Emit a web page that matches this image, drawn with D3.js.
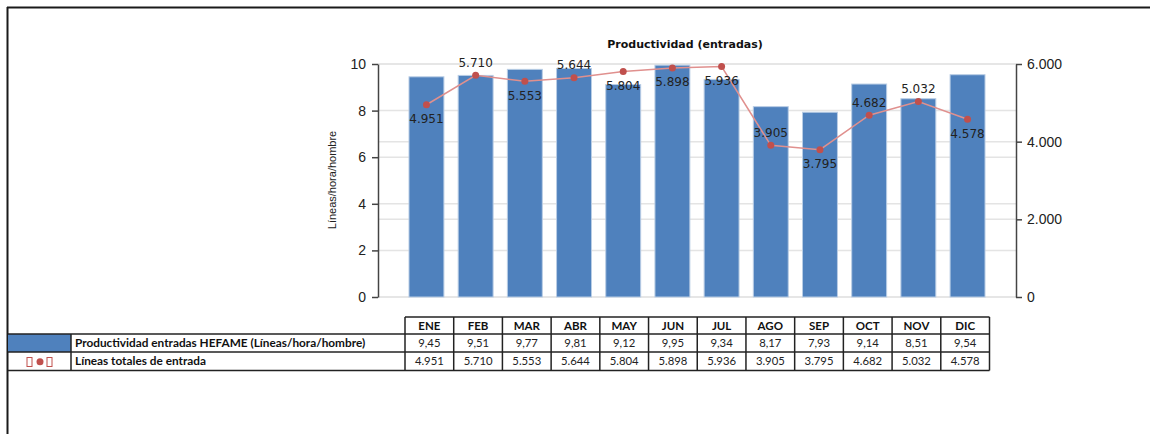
<!DOCTYPE html>
<html>
<head>
<meta charset="utf-8">
<script src="https://cdn.jsdelivr.net/npm/d3@7"></script>
<style>
  html, body { margin: 0; padding: 0; background: #fff; }
  svg { display: block; }
</style>
</head>
<body>
<div id="chart"></div>
<script>
// Data
const months = ["ENE", "FEB", "MAR", "ABR", "MAY", "JUN", "JUL", "AGO", "SEP", "OCT", "NOV", "DIC"];
const productividad = [9.45, 9.51, 9.77, 9.81, 9.12, 9.95, 9.34, 8.17, 7.93, 9.14, 8.51, 9.54];
const lineasTotales = [4951, 5710, 5553, 5644, 5804, 5898, 5936, 3905, 3795, 4682, 5032, 4578];
const labelSide = ["below", "above", "below", "above", "below", "below", "below", "above", "below", "above", "above", "below"];
const leftTicks = [0, 2, 4, 6, 8, 10];
const rightTicks = [0, 2000, 4000, 6000];
const seriesNames = ["Productividad entradas HEFAME (Líneas/hora/hombre)", "Líneas totales de entrada"];

// Spanish number format
const es = d3.formatLocale({ decimal: ",", thousands: ".", grouping: [3], currency: ["", " €"] });
const fmtInt = es.format(",.0f");
const fmtDec = es.format(",.2f");

const width = 1150, height = 434;
const plot = { left: 378, right: 1016, top: 64, bottom: 297 };

const svg = d3.select("#chart").append("svg")
    .attr("width", width)
    .attr("height", height);

// Outer frame (top and left edges)
svg.append("line").attr("x1", 7).attr("x2", width).attr("y1", 7.5).attr("y2", 7.5)
    .attr("stroke", "#1a1a1a").attr("stroke-width", 2);
svg.append("line").attr("x1", 7.5).attr("x2", 7.5).attr("y1", 7).attr("y2", height)
    .attr("stroke", "#1a1a1a").attr("stroke-width", 2);

// Scales
const x = d3.scaleBand()
    .domain(months)
    .range([plot.left, plot.right])
    .paddingInner(0.29)
    .paddingOuter(0.63);

const yLeft = d3.scaleLinear().domain([0, 10]).range([plot.bottom, plot.top]);
const yRight = d3.scaleLinear().domain([0, 6000]).range([plot.bottom, plot.top]);

// Gridlines
const grid = svg.append("g").attr("stroke", "#e4e4e4").attr("stroke-width", 1.5);
leftTicks.forEach(t => {
    grid.append("line").attr("x1", plot.left).attr("x2", plot.right)
        .attr("y1", yLeft(t)).attr("y2", yLeft(t));
});
rightTicks.forEach(t => {
    grid.append("line").attr("x1", plot.left).attr("x2", plot.right)
        .attr("y1", yRight(t)).attr("y2", yRight(t));
});

// Bars
svg.append("g").selectAll("rect")
    .data(months)
    .enter()
    .append("rect")
    .attr("x", d => x(d))
    .attr("y", (d, i) => yLeft(productividad[i]))
    .attr("width", x.bandwidth())
    .attr("height", (d, i) => yLeft(0) - yLeft(productividad[i]))
    .attr("fill", "#4f81bd")
    .attr("stroke", "#b9cde5")
    .attr("stroke-width", 1);

// Axes
const leftAxis = svg.append("g")
    .attr("transform", `translate(${plot.left},0)`)
    .call(d3.axisLeft(yLeft).tickValues(leftTicks).tickSize(6).tickSizeOuter(0).tickPadding(6));

const rightAxis = svg.append("g")
    .attr("transform", `translate(${plot.right},0)`)
    .call(d3.axisRight(yRight).tickValues(rightTicks).tickSize(6).tickSizeOuter(0).tickPadding(5)
        .tickFormat(fmtInt));

[leftAxis, rightAxis].forEach(a => {
    a.select(".domain").attr("stroke", "#444").attr("stroke-width", 1.5);
    a.selectAll(".tick line").attr("stroke", "#444").attr("stroke-width", 1.5);
    a.selectAll(".tick text")
        .attr("fill", "#222")
        .style("font-family", "'Liberation Sans', Arial, sans-serif")
        .style("font-size", "14px");
});

// Y-axis label
svg.append("text")
    .attr("transform", `translate(336,180) rotate(-90)`)
    .attr("text-anchor", "middle")
    .style("font-family", "'Liberation Sans', Arial, sans-serif")
    .style("font-size", "11px")
    .attr("fill", "#222")
    .text("Líneas/hora/hombre");

// Title
svg.append("text")
    .attr("x", 685)
    .attr("y", 48)
    .attr("text-anchor", "middle")
    .style("font-family", "'DejaVu Sans', Verdana, sans-serif")
    .style("font-weight", "bold")
    .style("font-size", "11px")
    .attr("fill", "#111")
    .text("Productividad (entradas)");

// Line series
const line = d3.line()
    .x((d, i) => x(months[i]) + x.bandwidth() / 2)
    .y(d => yRight(d));

svg.append("path")
    .datum(lineasTotales)
    .attr("d", line)
    .attr("fill", "none")
    .attr("stroke", "#e0908e")
    .attr("stroke-width", 1.5);

svg.append("g").selectAll("circle")
    .data(lineasTotales)
    .enter()
    .append("circle")
    .attr("cx", (d, i) => x(months[i]) + x.bandwidth() / 2)
    .attr("cy", d => yRight(d))
    .attr("r", 3.5)
    .attr("fill", "#c0504d");

// Data labels
svg.append("g").selectAll("text")
    .data(lineasTotales)
    .enter()
    .append("text")
    .attr("x", (d, i) => x(months[i]) + x.bandwidth() / 2)
    .attr("y", (d, i) => yRight(d) + (labelSide[i] === "above" ? -13 : 14))
    .attr("dy", "0.36em")
    .attr("text-anchor", "middle")
    .style("font-family", "'DejaVu Sans', Verdana, sans-serif")
    .style("font-size", "12px")
    .attr("fill", "#222")
    .text(d => fmtInt(d));

// Data table
const col = d3.scaleBand().domain(months).range([405, 989.5]);
const rows = { headTop: 317, r1Top: 334, r2Top: 352, bottom: 370.5 };
const tableFont = "Lato, 'Open Sans', sans-serif";
const table = svg.append("g");

function hline(x1, x2, y) {
    table.append("line").attr("x1", x1).attr("x2", x2).attr("y1", y).attr("y2", y)
        .attr("stroke", "#222").attr("stroke-width", 1.5);
}
function vline(xp, y1, y2) {
    table.append("line").attr("x1", xp).attr("x2", xp).attr("y1", y1).attr("y2", y2)
        .attr("stroke", "#222").attr("stroke-width", 1.5);
}

// legend swatch for bars
table.append("rect")
    .attr("x", 8).attr("y", rows.r1Top)
    .attr("width", 63).attr("height", rows.r2Top - rows.r1Top)
    .attr("fill", "#4f81bd");

// legend symbol for line
table.append("rect").attr("x", 27).attr("y", 357.5).attr("width", 5).attr("height", 9)
    .attr("fill", "none").attr("stroke", "#c0504d").attr("stroke-width", 1);
table.append("circle").attr("cx", 40).attr("cy", 361.7).attr("r", 3.5).attr("fill", "#c0504d");
table.append("rect").attr("x", 47).attr("y", 357.5).attr("width", 5).attr("height", 9)
    .attr("fill", "none").attr("stroke", "#c0504d").attr("stroke-width", 1);

hline(col.range()[0], col.range()[1], rows.headTop);
hline(8, col.range()[1], rows.r1Top);
hline(8, col.range()[1], rows.r2Top);
hline(8, col.range()[1], rows.bottom);
vline(71, rows.r1Top, rows.bottom);
months.forEach(m => vline(col(m), rows.headTop, rows.bottom));
vline(col.range()[1], rows.headTop, rows.bottom);

// header texts
table.selectAll(".head")
    .data(months)
    .enter()
    .append("text")
    .attr("x", d => col(d) + col.bandwidth() / 2)
    .attr("y", (rows.headTop + rows.r1Top) / 2)
    .attr("dy", "0.36em")
    .attr("text-anchor", "middle")
    .style("font-family", tableFont)
    .style("font-weight", "bold")
    .style("font-size", "11.5px")
    .attr("fill", "#111")
    .text(d => d);

// row labels
[rows.r1Top, rows.r2Top].forEach((top, i) => {
    const next = i === 0 ? rows.r2Top : rows.bottom;
    table.append("text")
        .attr("x", 75)
        .attr("y", (top + next) / 2)
        .attr("dy", "0.36em")
        .style("font-family", tableFont)
        .style("font-weight", "bold")
        .style("font-size", "11.8px")
        .attr("fill", "#111")
        .text(seriesNames[i]);
});

// row values
table.selectAll(".v1")
    .data(productividad)
    .enter()
    .append("text")
    .attr("x", (d, i) => col(months[i]) + col.bandwidth() / 2)
    .attr("y", (rows.r1Top + rows.r2Top) / 2)
    .attr("dy", "0.36em")
    .attr("text-anchor", "middle")
    .style("font-family", tableFont)
    .style("font-size", "11.3px")
    .attr("fill", "#222")
    .text(d => fmtDec(d));

table.selectAll(".v2")
    .data(lineasTotales)
    .enter()
    .append("text")
    .attr("x", (d, i) => col(months[i]) + col.bandwidth() / 2)
    .attr("y", (rows.r2Top + rows.bottom) / 2)
    .attr("dy", "0.36em")
    .attr("text-anchor", "middle")
    .style("font-family", tableFont)
    .style("font-size", "11.3px")
    .attr("fill", "#222")
    .text(d => fmtInt(d));
</script>
</body>
</html>
